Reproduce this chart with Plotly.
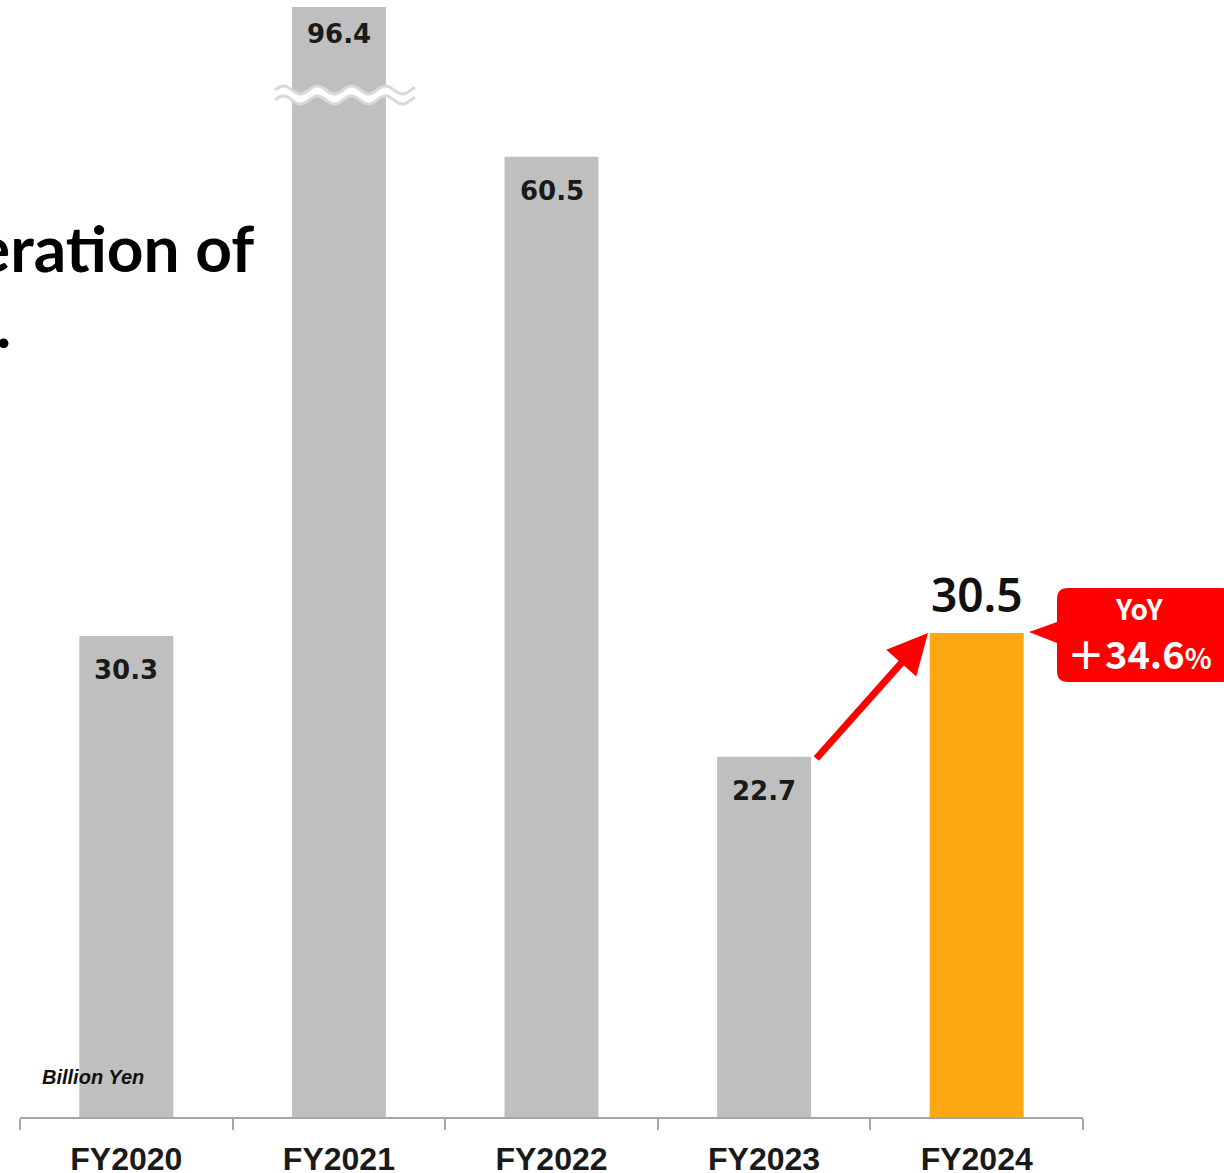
import numpy as np
import plotly.graph_objects as go

# ---- data -------------------------------------------------------------
years = ["FY2020", "FY2021", "FY2022", "FY2023", "FY2024"]
values = [30.3, 96.4, 60.5, 22.7, 30.5]
value_labels = ["30.3", "96.4", "60.5", "22.7", "30.5"]
yoy_label = "YoY"
yoy_value = "＋34.6"
unit_label = "Billion Yen"
heading_tail = "eration of"

# ---- geometry ---------------------------------------------------------
W, H = 1224, 1173
L, R, T, B = 20, 1083, 7, 1117          # plot area in pixels
Y_MAX = 69.94                           # axis is broken above this value

GREY = "#bfbfbf"
ORANGE = "#fda813"
RED = "#ff0000"


def px(p):
    return (p - L) / (R - L)


def py(p):
    return (B - p) / (B - T)


colors = [GREY] * (len(years) - 1) + [ORANGE]

fig = go.Figure(
    go.Bar(
        x=years,
        y=values,
        marker=dict(color=colors, line=dict(width=0)),
        hoverinfo="skip",
        cliponaxis=True,
    )
)

annotations = []
# value labels inside the grey bars, above the highlighted bar
for i, (yr, v, lab) in enumerate(zip(years, values, value_labels)):
    if i == len(years) - 1:
        annotations.append(dict(
            x=yr, y=v, xref="x", yref="y", text=lab, showarrow=False,
            yanchor="bottom", yshift=6,
            font=dict(family="Noto Sans", size=46, color="#111111",
                      weight=600),
        ))
    else:
        clipped = v > Y_MAX
        annotations.append(dict(
            x=yr, y=min(v, Y_MAX), xref="x", yref="y", text=f"<b>{lab}</b>",
            showarrow=False, yanchor="top", yshift=-10 if clipped else -17,
            font=dict(family="DejaVu Sans", size=26, color="#1a1a1a"),
        ))

# unit note
annotations.append(dict(
    x=px(40), y=py(1077), xref="paper", yref="paper", xanchor="left",
    yanchor="middle", showarrow=False, text=f"<b><i>{unit_label}</i></b>",
    font=dict(family="Liberation Sans", size=20, color="#111111"),
))

# heading fragment at the left edge
annotations.append(dict(
    x=px(256), y=py(247), xref="paper", yref="paper", xanchor="right",
    yanchor="middle", showarrow=False, text=f"<b>{heading_tail}</b>",
    font=dict(family="Lato", size=64, color="#000000"),
))
annotations.append(dict(
    x=px(13), y=py(324), xref="paper", yref="paper", xanchor="right",
    yanchor="middle", showarrow=False, text="<b>.</b>",
    font=dict(family="Lato", size=64, color="#000000"),
))

# growth arrow from FY2023 to FY2024
annotations.append(dict(
    x=px(928), y=py(633), xref="paper", yref="paper", text="",
    showarrow=True, arrowhead=2, arrowsize=1.15, arrowwidth=7,
    arrowcolor=RED, ax=815 - 928, ay=760 - 633, standoff=0,
))

# YoY callout text
annotations.append(dict(
    x=px(1139), y=py(634), xref="paper", yref="paper", showarrow=False,
    text=(f"<b><span style='font-size:28px'>{yoy_label}</span><br>"
          f"{yoy_value}<span style='font-size:28px'>%</span></b>"),
    xanchor="center", yanchor="middle", align="center",
    font=dict(family="Noto Sans CJK JP", size=38, color="#ffffff"),
))

shapes = []

# callout bubble: rounded box with a pointer towards the FY2024 bar
x0, x1, y0, y1, r = 1057, 1232, 588, 682, 11
bubble = (
    f"M {px(x0 + r)},{py(y0)} L {px(x1 - r)},{py(y0)} "
    f"Q {px(x1)},{py(y0)} {px(x1)},{py(y0 + r)} "
    f"L {px(x1)},{py(y1 - r)} Q {px(x1)},{py(y1)} {px(x1 - r)},{py(y1)} "
    f"L {px(x0 + r)},{py(y1)} Q {px(x0)},{py(y1)} {px(x0)},{py(y1 - r)} "
    f"L {px(x0)},{py(643)} L {px(1029)},{py(632)} L {px(x0)},{py(622)} "
    f"L {px(x0)},{py(y0 + r)} Q {px(x0)},{py(y0)} {px(x0 + r)},{py(y0)} Z"
)
shapes.append(dict(type="path", xref="paper", yref="paper", path=bubble,
                   fillcolor=RED, line=dict(width=0), layer="above"))

# wavy axis-break mark across the FY2021 bar
wx = np.linspace(275, 415, 120)
phase = 2 * np.pi * (wx - 275) / 34.0
upper = 90 - 4 * np.sin(phase)
lower = 100 - 4 * np.sin(phase)


def polyline(xs, ys):
    pts = [f"{px(a):.5f},{py(b):.5f}" for a, b in zip(xs, ys)]
    return "M " + " L ".join(pts)


band = polyline(np.r_[wx, wx[::-1]], np.r_[upper, lower[::-1]]) + " Z"
shapes.append(dict(type="path", xref="paper", yref="paper", path=band,
                   fillcolor="#ffffff", line=dict(width=0), layer="above"))
for curve in (upper, lower):
    shapes.append(dict(type="path", xref="paper", yref="paper",
                       path=polyline(wx, curve),
                       line=dict(color="#d9d9d9", width=3), layer="above"))

fig.update_layout(
    width=W, height=H,
    margin=dict(l=L, r=W - R, t=T, b=H - B, autoexpand=False),
    paper_bgcolor="#ffffff", plot_bgcolor="#ffffff",
    bargap=0.558, showlegend=False,
    annotations=annotations, shapes=shapes,
    xaxis=dict(
        showline=True, linecolor="#a6a6a6", linewidth=2,
        ticks="outside", tickson="boundaries", ticklen=11, tickwidth=2,
        tickcolor="#a6a6a6", showgrid=False, automargin=False,
        tickfont=dict(family="Liberation Sans", size=32, color="#1a1a1a"),
        tickprefix="<b>", ticksuffix="</b>", ticklabelstandoff=13,
    ),
    yaxis=dict(range=[0, Y_MAX], visible=False, showgrid=False,
               zeroline=False, fixedrange=True, automargin=False),
)

fig.write_html("out.html")
